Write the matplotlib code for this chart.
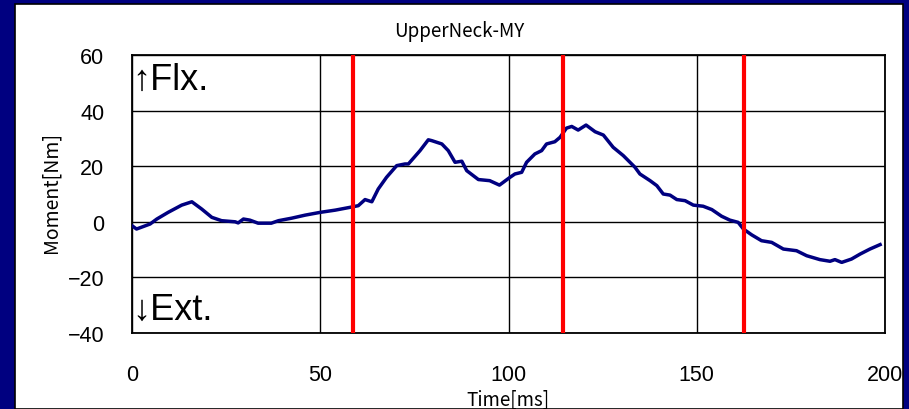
import matplotlib
matplotlib.use("Agg")
import matplotlib.pyplot as plt
from matplotlib.patches import Rectangle

# values
time_ms = [0, 1.2, 4.8, 6.6, 9.6, 13.2, 15.9, 18.5, 21.2, 23.8, 27.4, 28.2, 29.6, 31.3,
           33.5, 37, 38.9, 42.4, 46, 50, 54, 57.9, 60.1, 61.9, 63.7, 65.4, 67.6, 70.3,
           72.5, 73.4, 76.5, 78.7, 79.6, 82.3, 84, 85.8, 87.6, 88.9, 92, 95, 97.6, 100.4,
           101.7, 103.5, 104.8, 107, 108.8, 110.1, 112.3, 113.7, 115.4, 116.8, 118.5,
           120.6, 123, 125.2, 127.8, 130.5, 133.6, 134.9, 137.6, 139.4, 141.1, 142.9,
           144.7, 146.9, 149.1, 151.7, 154, 156.6, 158.8, 161, 162.4, 164.6, 167.2,
           169.9, 173, 176.5, 179.2, 182.7, 185.4, 186.7, 188.5, 191.1, 193.4, 196, 198.7]
moment = [-1.4, -2.6, -0.8, 1.0, 3.4, 6.0, 7.2, 4.6, 1.6, 0.4, 0, -0.4, 1.0, 0.6,
          -0.5, -0.5, 0.4, 1.3, 2.4, 3.4, 4.2, 5.2, 5.8, 8, 7.2, 11.8, 16, 20.2,
          20.8, 20.8, 25.6, 29.5, 29.2, 28, 25.6, 21.4, 21.8, 18.4, 15.2, 14.8, 13.2, 16,
          17.2, 17.8, 21.4, 24.4, 25.6, 28, 28.8, 30.4, 33.7, 34.3, 33,
          34.8, 32.4, 31.2, 26.8, 23.8, 19.6, 17.2, 14.8, 13, 10, 9.6,
          8, 7.6, 6, 5.6, 4.4, 2, 0.6, -0.2, -2.6, -4.7, -6.8,
          -7.4, -9.8, -10.4, -12.2, -13.6, -14.2, -13.6, -14.6, -13.4, -11.6, -9.8, -8.2]
event_times = [58.6, 114.6, 162.6]
x_ticks = [0, 50, 100, 150, 200]
y_ticks = [-40, -20, 0, 20, 40, 60]

jp_font = ['Noto Sans CJK JP', 'DejaVu Sans']
tick_font = ['Liberation Sans', 'DejaVu Sans']

fig = plt.figure(figsize=(9.09, 4.10), dpi=100)
fig.patch.set_facecolor('#000080')

# white panel behind the chart
fig.patches.append(Rectangle((15 / 909, 0), 888 / 909, 405 / 410, transform=fig.transFigure,
                             facecolor='white', edgecolor='black', linewidth=1.2, zorder=-5))

ax = fig.add_axes([132 / 909, 76 / 410, 753 / 909, 278 / 410])
ax.set_facecolor('white')

ax.plot(time_ms, moment, color='#000080', linewidth=2.5, zorder=3)
for t in event_times:
    ax.axvline(t, color='#ff0000', linewidth=3, zorder=4)

ax.set_xlim(0, 200)
ax.set_ylim(-40, 60)
ax.set_xticks(x_ticks)
ax.set_yticks(y_ticks)
ax.grid(True, color='black', linewidth=1.0, zorder=1)
ax.set_axisbelow(True)
ax.tick_params(length=0, labelsize=15.5)
ax.tick_params(axis='x', pad=22)
ax.tick_params(axis='y', pad=20)
for lab in ax.get_xticklabels() + ax.get_yticklabels():
    lab.set_family(tick_font)
for s in ax.spines.values():
    s.set_linewidth(1.3)
    s.set_color('black')

ax.text(0.0, 0.878, '\u2191Flx.', transform=ax.transAxes, ha='left', va='baseline',
        fontsize=26, family=tick_font, zorder=5)
ax.text(0.0, 0.05, '\u2193Ext.', transform=ax.transAxes, ha='left', va='baseline',
        fontsize=26, family=tick_font, zorder=5)

fig.text(459 / 909, 1 - 32 / 410, 'UpperNeck-MY', ha='center', va='center',
         fontsize=13.5, family=jp_font)
fig.text(51 / 909, 1 - 193 / 410, 'Moment[Nm]', ha='center', va='center',
         rotation=90, fontsize=14, family=jp_font)
fig.text(508 / 909, 1 - 400 / 410, 'Time[ms]', ha='center', va='center',
         fontsize=13.5, family=jp_font)

fig.savefig('out.png', dpi=100, facecolor=fig.get_facecolor())
